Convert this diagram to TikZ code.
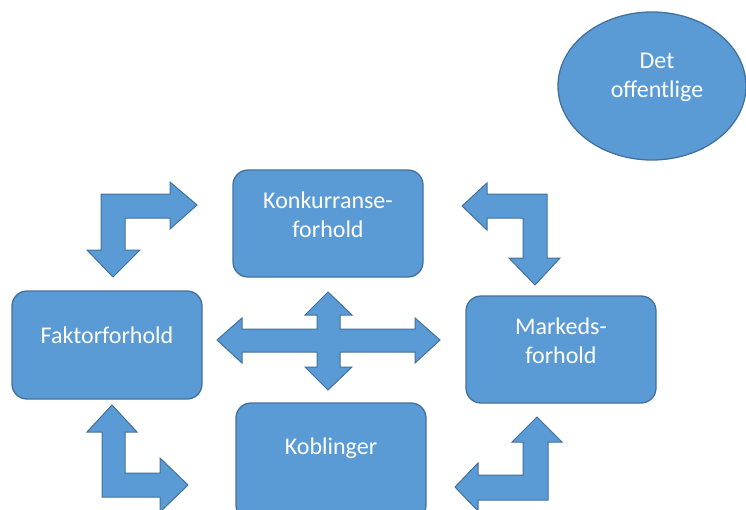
\documentclass[tikz,border=0pt]{standalone}
\usepackage{fontspec}
\setmainfont{Carlito}
\usetikzlibrary{shapes.geometric}
\definecolor{boxblue}{HTML}{5B9BD5}
\definecolor{boxedge}{HTML}{41719C}
\tikzset{
  panel/.style={draw=boxedge, line width=1.3pt, fill=boxblue, rounded corners=15pt},
  shape arrow/.style={draw=boxedge, line width=1pt, fill=boxblue, line join=miter},
  label/.style={text=white, font=\fontsize{24pt}{29pt}\selectfont, align=center}
}
\begin{document}
\begin{tikzpicture}[x=1pt, y=-1pt]
\useasboundingbox (0,0) rectangle (746,509);
\clip (0,0) rectangle (746,509);

% the four factor boxes
\draw[panel] (233,170) rectangle (423,277);
\node[label] (konk) at (328,215) {Konkurranse-\\forhold};
\draw[panel] (12,291) rectangle (202,399);
\node[label] (fakt) at (107,335) {Faktorforhold};
\draw[panel] (466,296) rectangle (656,403);
\node[label] (mark) at (561,341) {Markeds-\\forhold};
\draw[panel] (236,403) rectangle (426,520);
\node[label] (kobl) at (331,448) {Koblinger};

% the public sector
\node[ellipse, draw=boxedge, line width=1.3pt, fill=boxblue, minimum width=188pt, minimum height=148pt] (offentlig) at (652,86) {};
\node[label] at (657,77) {Det\\offentlige};

% bent arrow, top left
\draw[shape arrow] (101,194) -- (170,194) -- (170,182) -- (197,205) -- (170,229) -- (170,218)
  -- (125,218) -- (125,250) -- (140,250) -- (113,277) -- (87,250) -- (101,250) -- cycle;

% bent arrow, top right
\draw[shape arrow] (547,194) -- (487,194) -- (487,183) -- (462,206) -- (487,230) -- (487,218)
  -- (523,218) -- (523,258) -- (509,258) -- (535,285) -- (560,258) -- (547,258) -- cycle;

% bent arrow, bottom left
\draw[shape arrow] (102,497) -- (102,432) -- (87,432) -- (112,405) -- (137,432) -- (125,432)
  -- (125,473) -- (160,473) -- (160,458) -- (188,485) -- (160,512) -- (160,497) -- cycle;

% bent arrow, bottom right
\draw[shape arrow] (548,500) -- (548,442) -- (562,442) -- (537,417) -- (512,442) -- (523,442)
  -- (523,475) -- (478,475) -- (478,463) -- (455,487) -- (478,511) -- (478,500) -- cycle;

% four-way arrow in the middle
\draw[shape arrow] (317,329) -- (317,315) -- (305,315) -- (328,292) -- (352,315) -- (340,315)
  -- (340,329) -- (415,329) -- (415,318) -- (440,340) -- (415,363) -- (415,352)
  -- (340,352) -- (340,367) -- (352,367) -- (328,390) -- (305,367) -- (317,367)
  -- (317,352) -- (242,352) -- (242,363) -- (217,340) -- (242,318) -- (242,329) -- cycle;
\end{tikzpicture}
\end{document}
